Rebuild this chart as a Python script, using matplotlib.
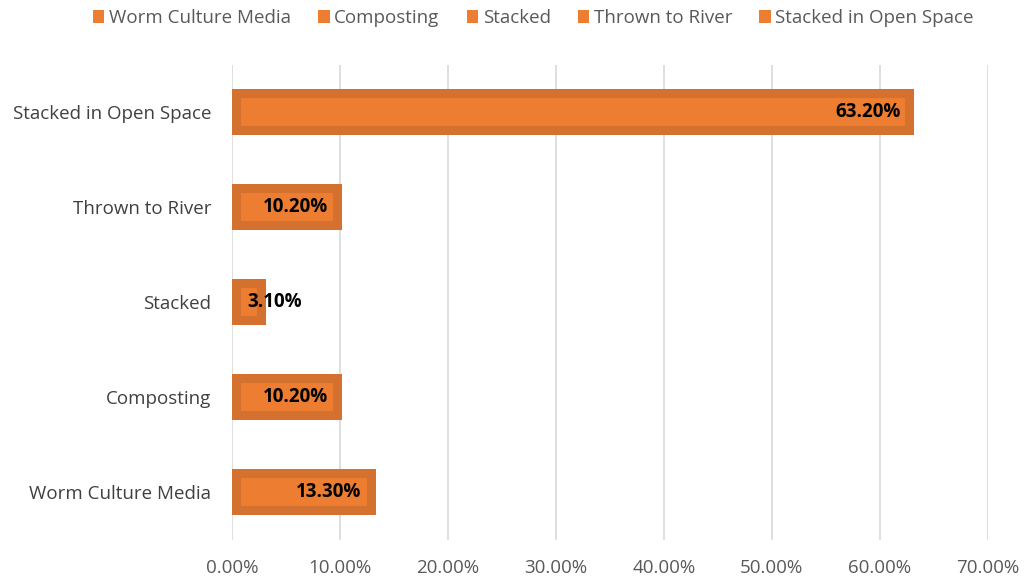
import matplotlib
matplotlib.use('agg')
import matplotlib.pyplot as plt
from matplotlib.ticker import FuncFormatter

categories = ["Worm Culture Media", "Composting", "Stacked", "Thrown to River", "Stacked in Open Space"]
values = [13.3, 10.2, 3.1, 10.2, 63.2]
xticks = [0, 10, 20, 30, 40, 50, 60, 70]

inner = "#ED7D31"
outer = "#D4712E"

plt.rcParams['font.family'] = ['Open Sans', 'DejaVu Sans']

fig = plt.figure(figsize=(10.24, 5.82), dpi=100)
ax = fig.add_axes([0.2266, 0.073, 0.738, 0.816])

for i, (cat, v) in enumerate(zip(categories, values)):
    bar = ax.barh(i, v, height=0.485, color=inner, edgecolor=outer,
                  linewidth=13, label=cat, zorder=3)[0]
    bar.set_clip_path(bar)  # keep the thick border inside the bar
    if v > 5:
        ax.annotate(f"{v:.2f}%", xy=(v, i), xytext=(-14, 0), textcoords='offset pixels',
                    ha='right', va='center', fontsize=13.5, fontweight='bold', color='black', zorder=4)
    else:
        ax.annotate(f"{v:.2f}%", xy=(0, i), xytext=(15, 0), textcoords='offset pixels',
                    ha='left', va='center', fontsize=13.5, fontweight='bold', color='black', zorder=4)

ax.set_xlim(0, 70)
ax.set_ylim(-0.5, len(categories) - 0.5)
ax.set_xticks(xticks)
ax.xaxis.set_major_formatter(FuncFormatter(lambda x, p: f"{x:.2f}%"))
ax.set_yticks(range(len(categories)))
ax.set_yticklabels(categories)
ax.grid(axis='x', color='#D9D9D9', linewidth=1.2, zorder=0)
for s in ax.spines.values():
    s.set_visible(False)
ax.tick_params(axis='x', length=0, pad=14, labelsize=13.5, labelcolor='#595959')
ax.tick_params(axis='y', length=0, pad=15, labelsize=13.5, labelcolor='#404040')

handles, labels = ax.get_legend_handles_labels()
leg = fig.legend(handles, labels, loc='center', bbox_to_anchor=(0.521, 0.969), ncol=5,
                 frameon=False, fontsize=13.5, handlelength=0.6, handleheight=0.7,
                 handletextpad=0.25, columnspacing=1.45, labelcolor='#595959')
for h in leg.legend_handles:
    h.set_linewidth(0)
    h.set_facecolor(inner)

fig.savefig("out.png", dpi=100)
plt.close(fig)
